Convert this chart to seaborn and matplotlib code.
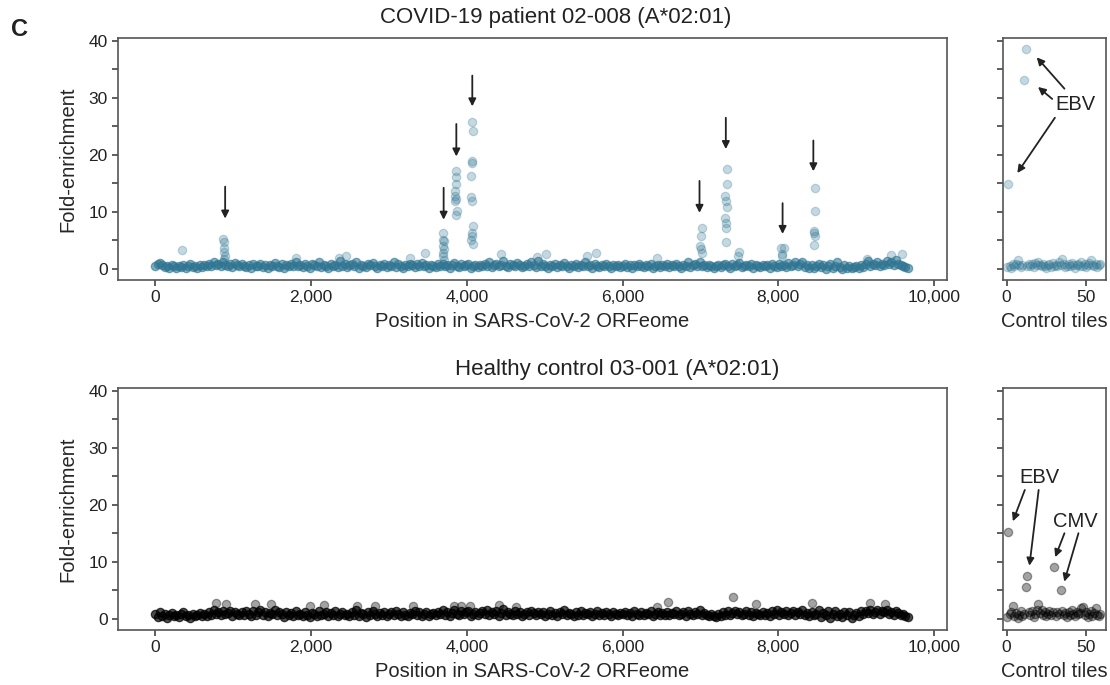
import numpy as np
import pandas as pd
import seaborn as sns
import matplotlib.pyplot as plt
from matplotlib.ticker import FuncFormatter, MultipleLocator

# --- data ---

# baseline fold-enrichment, one value every 30 tiles (0 .. 9660)
patient_base = [
    0.4, 0.9, 1.0, 0.7, 0.3, 0.5, 0.2, 0.6, 0.4, 0.1, 0.5, 0.3, 0.7, 0.2, 0.4, 0.8, 0.3, 0.5, 0.1, 0.6,
    0.3, 0.7, 0.4, 0.9, 0.5, 1.1, 0.6, 0.8, 0.4, 1.2, 0.7, 0.5, 0.9, 0.3, 1.0, 0.6, 0.4, 0.8, 0.5, 0.3,
    0.6, 0.2, 0.8, 0.4, 0.5, 0.9, 0.3, 0.7, 0.2, 0.6, 0.4, 1.0, 0.5, 0.3, 0.8, 0.2, 0.6, 0.4, 0.9, 0.5,
    1.2, 0.4, 0.7, 0.3, 0.9, 0.5, 0.2, 0.8, 0.6, 0.4, 1.1, 0.3, 0.7, 0.5, 0.2, 0.9, 0.4, 0.6, 0.3, 1.3,
    0.5, 0.8, 0.3, 0.6, 0.9, 0.4, 1.2, 0.2, 0.7, 0.5, 0.3, 0.8, 0.6, 1.0, 0.4, 0.2, 0.7, 0.5, 0.9, 0.3,
    0.6, 0.4, 1.1, 0.3, 0.8, 0.5, 0.2, 0.7, 0.4, 0.9, 0.6, 0.3, 0.8, 0.5, 1.0, 0.4, 0.7, 0.2, 0.6, 0.5,
    0.3, 0.8, 0.5, 0.9, 0.4, 0.6, 0.2, 0.7, 1.0, 0.5, 0.3, 0.8, 0.4, 0.6, 0.9, 0.2, 0.5, 0.7, 0.3, 0.6,
    0.4, 0.8, 0.5, 1.2, 0.3, 0.7, 0.9, 0.4, 0.6, 1.4, 0.5, 0.3, 0.8, 0.6, 0.4, 1.0, 0.7, 0.3, 0.5, 0.8,
    0.4, 1.1, 0.6, 0.3, 1.3, 0.5, 0.8, 0.4, 0.2, 0.7, 0.5, 0.9, 0.3, 0.6, 0.4, 1.0, 0.5, 0.2, 0.7, 0.4,
    0.8, 0.3, 0.6, 0.5, 1.2, 0.4, 0.7, 0.2, 0.9, 0.5, 0.3, 0.6, 0.4, 0.8, 0.5, 0.2, 0.7, 0.4, 0.6, 0.3,
    0.5, 0.8, 0.3, 0.6, 0.2, 0.7, 0.4, 0.9, 0.5, 0.3, 0.6, 0.4, 0.8, 0.2, 0.5, 0.7, 0.3, 0.6, 0.4, 0.8,
    0.3, 0.6, 0.5, 0.9, 0.4, 0.2, 0.7, 0.5, 1.1, 0.3, 0.6, 0.8, 0.4, 1.2, 0.5, 0.7, 0.3, 0.6, 0.4, 0.2,
    0.4, 0.7, 0.3, 0.6, 0.9, 0.5, 0.2, 0.8, 0.4, 0.6, 1.0, 0.3, 0.5, 0.7, 0.4, 0.8, 0.2, 0.6, 0.5, 0.3,
    0.7, 0.4, 0.6, 0.2, 0.8, 0.5, 0.3, 0.9, 0.4, 0.6, 0.3, 1.0, 0.5, 0.7, 1.2, 0.4, 0.8, 1.1, 0.3, 0.6,
    0.2, 0.7, 0.1, 0.5, 0.9, 0.3, 0.6, 0.0, 0.4, 0.8, 0.2, 0.5, 1.1, 0.3, 0.0, 0.6, 0.2, 0.4, 0.1, 0.3,
    0.5, 0.1, 0.7, 0.3, 0.9, 1.3, 0.4, 0.8, 0.6, 1.1, 0.5, 0.9, 0.7, 1.4, 0.8, 1.2, 0.6, 1.5, 0.9, 0.7,
    0.5, 0.3, 0.1,
]
healthy_base = [
    0.8, 0.3, 1.1, 0.5, 0.9, 0.2, 0.7, 1.0, 0.4, 0.6, 0.3, 0.8, 1.1, 0.4, 0.7, 0.2, 0.9, 0.5, 0.6, 1.0,
    0.4, 0.8, 0.5, 1.2, 0.7, 1.5, 0.9, 1.1, 0.6, 1.4, 0.8, 1.0, 1.3, 0.5, 1.2, 0.9, 0.6, 1.1, 0.7, 1.3,
    0.9, 0.5, 1.4, 0.7, 1.1, 1.6, 0.6, 1.2, 0.4, 1.0, 0.8, 1.5, 0.6, 1.1, 0.9, 0.3, 1.2, 0.7, 1.0, 0.5,
    1.3, 0.6, 0.9, 0.4, 1.1, 0.7, 0.3, 1.0, 0.8, 0.5, 1.4, 0.6, 0.9, 1.2, 0.4, 1.0, 0.7, 1.3, 0.5, 0.8,
    1.1, 0.6, 0.9, 0.4, 1.2, 0.7, 1.5, 0.5, 1.0, 0.8, 0.3, 1.1, 0.6, 1.3, 0.9, 0.4, 1.0, 0.7, 1.2, 0.5,
    0.8, 1.1, 0.6, 1.4, 0.9, 0.5, 1.2, 0.7, 0.4, 1.0, 0.8, 1.3, 0.6, 1.1, 0.5, 0.9, 1.2, 0.4, 0.8, 1.0,
    0.6, 1.1, 0.8, 1.5, 0.7, 1.2, 0.4, 1.0, 1.6, 0.9, 0.6, 1.3, 0.8, 1.1, 1.4, 0.5, 0.9, 1.2, 0.7, 1.0,
    1.3, 0.8, 1.5, 0.6, 1.1, 0.9, 1.4, 0.5, 1.0, 1.7, 0.7, 1.2, 0.9, 0.6, 1.3, 0.8, 1.1, 0.5, 0.9, 1.2,
    0.7, 1.4, 1.0, 0.6, 1.2, 0.8, 1.1, 0.5, 0.9, 1.3, 0.7, 1.0, 0.4, 1.2, 0.8, 1.5, 0.6, 1.0, 0.9, 0.5,
    1.1, 0.7, 1.3, 0.6, 1.0, 0.8, 1.2, 0.5, 0.9, 1.4, 0.7, 1.0, 0.6, 1.2, 0.8, 0.4, 1.1, 0.9, 0.6, 1.0,
    0.8, 1.2, 0.6, 1.0, 0.5, 1.3, 0.9, 0.7, 1.1, 0.6, 1.0, 0.8, 1.4, 0.5, 0.9, 1.2, 0.7, 1.0, 0.6, 1.1,
    0.7, 1.0, 0.9, 1.3, 0.6, 0.8, 1.1, 0.5, 1.4, 0.9, 0.7, 1.2, 0.8, 1.5, 0.6, 1.0, 0.7, 0.4, 0.8, 0.5,
    0.3, 0.8, 0.5, 1.1, 0.7, 1.3, 0.6, 1.0, 1.4, 0.8, 1.2, 0.6, 0.9, 1.3, 0.7, 1.1, 0.5, 1.0, 0.8, 0.6,
    1.2, 0.7, 1.0, 0.5, 1.3, 0.9, 1.6, 0.6, 1.1, 0.8, 1.4, 0.7, 1.0, 1.3, 0.6, 1.1, 0.9, 1.5, 0.7, 1.0,
    0.4, 1.2, 0.6, 0.9, 1.5, 0.3, 1.0, 0.7, 1.3, 0.2, 0.8, 1.4, 0.5, 0.9, 0.3, 1.1, 0.6, 1.2, 0.2, 0.7,
    1.0, 0.5, 1.3, 0.8, 1.4, 1.0, 1.6, 0.9, 1.2, 1.5, 0.8, 1.3, 1.1, 1.6, 0.9, 1.2, 0.7, 1.4, 1.0, 0.6,
    0.9, 0.5, 0.3,
]

# enriched tiles (peaks and stray high points) in the patient
patient_hits_pos = [
    870, 875, 880, 885, 890, 880,
    3690, 3700, 3710, 3695, 3705, 3690, 3700, 3710,
    3860, 3855, 3865, 3850, 3845, 3855, 3850, 3870, 3860,
    4070, 4075, 4060, 4070, 4050, 4055, 4060, 4080, 4060, 4070, 4055, 4075,
    7020, 7010, 7000, 7010, 7020,
    7340, 7345, 7320, 7330, 7335, 7320, 7325, 7330, 7330, 7490, 7480,
    8040, 8070, 8045, 8050,
    8465, 8465, 8455, 8460, 8470, 8455,
    340, 1800, 2355, 2450, 3275, 3460, 4445, 4905, 5015, 5540, 5660, 6440, 9140, 9450, 9590,
]
patient_hits_fe = [
    5.2, 4.6, 3.6, 2.9, 2.2, 1.7,
    6.3, 5.1, 4.8, 3.9, 3.5, 2.8, 2.2, 1.6,
    17.2, 16.1, 14.9, 13.7, 12.7, 12.2, 11.8, 10.1, 9.4,
    25.7, 24.1, 18.9, 18.6, 16.2, 12.6, 11.8, 7.5, 6.3, 5.7, 5.1, 4.3,
    7.1, 5.8, 4.0, 3.5, 2.8,
    17.5, 14.9, 12.7, 11.8, 10.9, 8.9, 8.0, 7.2, 4.6, 2.9, 2.2,
    3.6, 3.7, 2.5, 2.2,
    14.2, 10.2, 6.7, 6.3, 5.8, 4.2,
    3.3, 1.9, 1.9, 2.2, 1.9, 2.75, 2.6, 2.0, 2.6, 2.2, 2.75, 1.9, 1.7, 2.4, 2.6,
]
healthy_hits_pos = [784, 912, 1285, 1480, 1990, 2170, 2585, 2824, 3311, 3832, 3920, 4035,
                    4412, 4630, 6436, 6585, 7420, 7712, 8428, 9177, 9370]
healthy_hits_fe = [2.75, 2.6, 2.5, 2.5, 2.3, 2.4, 2.2, 2.2, 2.3, 2.2, 2.2, 2.2,
                   2.4, 2.0, 2.0, 3.0, 3.8, 2.5, 2.8, 2.7, 2.5]

# control tiles (index 0..59)
patient_ctrl = [0.3, 14.9, 0.5, 0.2, 0.8, 0.4, 0.9, 1.5, 0.6, 0.3, 0.7, 33.2, 38.6, 0.5, 0.9,
                0.4, 0.8, 0.3, 1.0, 0.6, 1.1, 0.7, 0.4, 0.9, 0.5, 0.2, 0.6, 0.8, 0.3, 1.0,
                0.5, 0.7, 0.4, 1.2, 0.6, 1.7, 0.9, 0.3, 0.5, 0.8, 0.4, 1.0, 0.6, 0.2, 0.7,
                0.9, 0.4, 1.1, 0.5, 0.8, 0.3, 0.6, 1.0, 1.6, 0.7, 0.4, 0.9, 0.3, 0.6, 0.8]
healthy_ctrl = [0.3, 15.3, 0.8, 1.2, 2.3, 0.5, 1.0, 0.2, 0.7, 1.4, 0.4, 0.9, 5.6, 7.5, 1.1,
                0.6, 1.3, 0.3, 0.8, 1.6, 2.5, 1.0, 1.5, 0.7, 1.2, 0.4, 0.9, 1.3, 0.6, 1.1,
                9.0, 0.5, 1.2, 0.8, 5.0, 1.4, 0.6, 1.0, 0.3, 1.1, 0.7, 1.5, 0.9, 0.4, 1.2,
                0.8, 1.0, 1.9, 2.0, 0.6, 1.1, 0.3, 0.9, 1.3, 0.5, 1.0, 1.9, 0.7, 0.4, 0.8]

base_step = 30

# arrows marking the enriched epitopes: (x, start, tip)
patient_arrows = [(896, 14.4, 8.8), (3702, 14.2, 8.6), (3865, 25.4, 19.7), (4070, 33.9, 28.5),
                  (6988, 15.4, 9.8), (7326, 26.5, 21.0), (8055, 11.5, 6.1), (8450, 22.5, 17.1)]

patient_base_df = pd.DataFrame({"pos": range(0, base_step * len(patient_base), base_step), "fe": patient_base})
healthy_base_df = pd.DataFrame({"pos": range(0, base_step * len(healthy_base), base_step), "fe": healthy_base})
patient_hits_df = pd.DataFrame({"pos": patient_hits_pos, "fe": patient_hits_fe})
healthy_hits_df = pd.DataFrame({"pos": healthy_hits_pos, "fe": healthy_hits_fe})
patient_ctrl_df = pd.DataFrame({"tile": range(len(patient_ctrl)), "fe": patient_ctrl})
healthy_ctrl_df = pd.DataFrame({"tile": range(len(healthy_ctrl)), "fe": healthy_ctrl})

# --- plotting ---

sns.set_style("ticks")
plt.rcParams["font.family"] = ["Liberation Sans", "DejaVu Sans"]
plt.rcParams["axes.edgecolor"] = "#555555"
plt.rcParams["axes.linewidth"] = 1.2

fig = plt.figure(figsize=(11.1, 6.85), dpi=100)
W, H = 1110, 685

def px_axes(x0, x1, y0, y1):
    return fig.add_axes([x0 / W, 1 - y1 / H, (x1 - x0) / W, (y1 - y0) / H])

ax_p = px_axes(118, 946.5, 38, 279.5)
ax_pc = px_axes(1003, 1106, 38, 279.5)
ax_h = px_axes(118, 946.5, 388, 629.5)
ax_hc = px_axes(1003, 1106, 388, 629.5)

teal = "#2f7592"
pt = dict(s=36, linewidth=0.9)
# baseline is sampled every 30 tiles, so it is drawn denser to stand for the overlapping tiles
sns.scatterplot(data=patient_base_df, x="pos", y="fe", ax=ax_p, color=teal, edgecolor=teal, alpha=0.6, **pt)
sns.scatterplot(data=patient_hits_df, x="pos", y="fe", ax=ax_p, color=teal, edgecolor=teal, alpha=0.28, **pt)
sns.scatterplot(data=patient_ctrl_df, x="tile", y="fe", ax=ax_pc, color=teal, edgecolor=teal, alpha=0.28, **pt)
sns.scatterplot(data=healthy_base_df, x="pos", y="fe", ax=ax_h, color="black", edgecolor="black", alpha=0.7, **pt)
sns.scatterplot(data=healthy_hits_df, x="pos", y="fe", ax=ax_h, color="black", edgecolor="black", alpha=0.36, **pt)
sns.scatterplot(data=healthy_ctrl_df, x="tile", y="fe", ax=ax_hc, color="black", edgecolor="black", alpha=0.36, **pt)

comma = FuncFormatter(lambda v, p: f"{int(v):,}")
def ylab(v, p):
    return f"{int(v)}" if v % 10 == 0 else ""

for ax in (ax_p, ax_h):
    ax.set_xlim(-480, 10160)
    ax.xaxis.set_major_locator(MultipleLocator(2000))
    ax.xaxis.set_major_formatter(comma)
    ax.set_xlabel("Position in SARS-CoV-2 ORFeome", fontsize=14.5, labelpad=5)
    ax.set_ylabel("Fold-enrichment", fontsize=14.5, labelpad=8)
    ax.yaxis.set_major_formatter(FuncFormatter(ylab))
for ax in (ax_pc, ax_hc):
    ax.set_xlim(-2.2, 62.5)
    ax.set_xticks([0, 50])
    ax.set_xlabel("Control tiles", fontsize=14.5, labelpad=5)
    ax.set_ylabel("")
    ax.yaxis.set_major_formatter(FuncFormatter(lambda v, p: ""))
for ax in (ax_p, ax_pc, ax_h, ax_hc):
    ax.set_ylim(-1.9, 40.5)
    ax.yaxis.set_major_locator(MultipleLocator(5))
    ax.tick_params(labelsize=12.5, length=4, width=1.1, color="#333333", labelcolor="#222222")
    for sp in ax.spines.values():
        sp.set_visible(True)

arrow = dict(arrowstyle="-|>", color="#222222", lw=1.3, mutation_scale=11, shrinkA=0, shrinkB=0)
for x, y0, y1 in patient_arrows:
    ax_p.annotate("", xy=(x, y1), xytext=(x, y0), arrowprops=arrow)

# virus labels on the control panels
ax_pc.text(43.6, 28.9, "EBV", fontsize=14.5, ha="center", va="center", color="#222222")
for tail, head in [((36.4, 31.6), (19.0, 37.1)), ((28.7, 29.8), (19.8, 31.9)), ((30.4, 26.5), (6.8, 16.8))]:
    ax_pc.annotate("", xy=head, xytext=tail, arrowprops=arrow)
ax_hc.text(20.4, 24.7, "EBV", fontsize=14.5, ha="center", va="center", color="#222222")
ax_hc.text(43.1, 17.0, "CMV", fontsize=14.5, ha="center", va="center", color="#222222")
for tail, head in [((11.5, 22.6), (4.0, 17.1)), ((20.2, 22.6), (14.4, 9.3)),
                   ((36.4, 15.0), (30.6, 10.8)), ((45.2, 15.0), (36.3, 6.5))]:
    ax_hc.annotate("", xy=head, xytext=tail, arrowprops=arrow)

fig.text(556 / W, 1 - 17 / H, "COVID-19 patient 02-008 (A*02:01)", fontsize=16, ha="center", va="center", color="#222222")
fig.text(617 / W, 1 - 369 / H, "Healthy control 03-001 (A*02:01)", fontsize=16, ha="center", va="center", color="#222222")
fig.text(20 / W, 1 - 30 / H, "C", fontsize=17, fontweight="bold", ha="center", va="center", color="#222222")

fig.savefig("out.png", dpi=100)
